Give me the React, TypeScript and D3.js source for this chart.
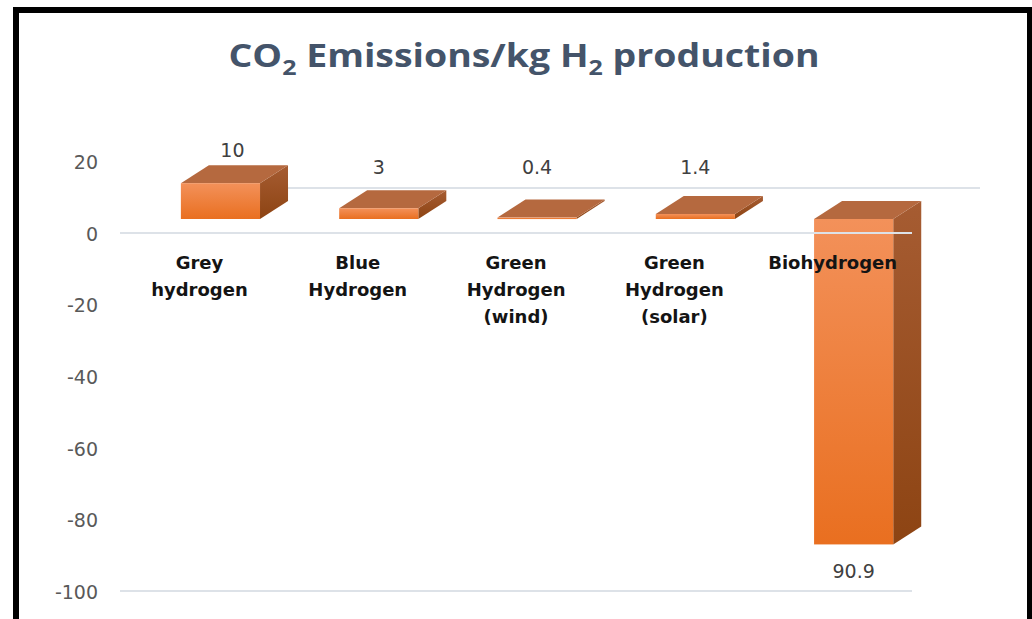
import React from 'react';
import * as d3 from 'd3';

// chart data
const categories = ['Grey hydrogen', 'Blue Hydrogen', 'Green Hydrogen (wind)', 'Green Hydrogen (solar)', 'Biohydrogen'];
const categoryLines = [['Grey', 'hydrogen'], ['Blue', 'Hydrogen'], ['Green', 'Hydrogen', '(wind)'], ['Green', 'Hydrogen', '(solar)'], ['Biohydrogen']];
const values = [10, 3, 0.4, 1.4, -90.9];
const valueLabels = ['10', '3', '0.4', '1.4', '90.9'];
const yTicks = [20, 0, -20, -40, -60, -80, -100];

const W = 1032;
const H = 619;

const App = () => {
  const xScale = d3.scaleBand<string>()
    .domain(categories)
    .range([141.3, 932.8])
    .paddingInner(0.5)
    .paddingOuter(0.25);

  const yScale = d3.scaleLinear()
    .domain([-100, 20])
    .range([592, 162.4]);

  // 3d depth of the bars and of the back wall
  const dx = 28, dy = -18;
  const wallDx = 68, wallDy = -46;
  const frontShift = -15;
  const yFront = (v: number) => yScale(v) + frontShift;

  const bw = xScale.bandwidth();
  const gridX0 = 120, gridX1 = 912;

  return (
    <svg width={W} height={H} style={{ position: 'absolute', left: 0, top: 0, background: '#fff' }}>
      <defs>
        <linearGradient id="frontGrad" x1="0" y1="0" x2="0" y2="1">
          <stop offset="0%" stopColor="#F3915A" />
          <stop offset="100%" stopColor="#E96F20" />
        </linearGradient>
        <linearGradient id="sideGrad" x1="0" y1="0" x2="0" y2="1">
          <stop offset="0%" stopColor="#A65C32" />
          <stop offset="100%" stopColor="#8D4413" />
        </linearGradient>
      </defs>

      {/* back wall zero line */}
      <line x1={gridX0 + wallDx} x2={gridX1 + wallDx} y1={yScale(0) + wallDy} y2={yScale(0) + wallDy}
        stroke="#DDE2E8" strokeWidth={2} />

      {/* bars */}
      {values.map((v, i) => {
        const x0 = xScale(categories[i])!;
        const x1 = x0 + bw;
        const yt = Math.min(yFront(0), yFront(v));
        const yb = Math.max(yFront(0), yFront(v));
        const top = `${x0},${yt} ${x0 + dx},${yt + dy} ${x1 + dx},${yt + dy} ${x1},${yt}`;
        const side = `${x1},${yt} ${x1 + dx},${yt + dy} ${x1 + dx},${yb + dy} ${x1},${yb}`;
        return (
          <g key={categories[i]}>
            <polygon points={side} fill="url(#sideGrad)" />
            <polygon points={top} fill="#B5693F" />
            <rect x={x0} y={yt} width={bw} height={Math.max(1.5, yb - yt)} fill="url(#frontGrad)" />
          </g>
        );
      })}

      {/* front gridlines */}
      {[0, -100].map(t => (
        <line key={t} x1={gridX0} x2={gridX1} y1={yScale(t) - 1} y2={yScale(t) - 1}
          stroke="#DDE2E8" strokeWidth={2} />
      ))}

      {/* y axis */}
      {yTicks.map(t => (
        <text key={t} x={98} y={yScale(t)} dy="0.36em" textAnchor="end"
          fontFamily="DejaVu Sans" fontSize={19} fill="#595959">{t}</text>
      ))}

      {/* value labels */}
      {values.map((v, i) => {
        const cx = xScale(categories[i])! + bw / 2;
        let x = cx, y;
        if (v >= 0) {
          const topBack = yFront(v) + dy;
          y = Math.min(topBack - 8, 174);
          if (topBack - 8 < 174) x = cx + dx / 2 - 2;
        } else {
          y = yFront(v) + 34;
        }
        return (
          <text key={i} x={x} y={y} textAnchor="middle" fontFamily="DejaVu Sans" fontSize={19} fill="#404040">
            {valueLabels[i]}
          </text>
        );
      })}

      {/* category labels */}
      {categoryLines.map((lines, i) => (
        <text key={i} textAnchor="middle" fontFamily="DejaVu Sans" fontWeight="bold" fontSize={18} fill="#141414">
          {lines.map((l, j) => (
            <tspan key={j} x={xScale(categories[i])! + bw / 2 - 21} y={269 + j * 27}>{l}</tspan>
          ))}
        </text>
      ))}

      {/* title */}
      <text x={524} y={67} textAnchor="middle" fontFamily="Open Sans" fontWeight="bold" fontSize={33}
        fill="#44546A" textLength={591} lengthAdjust="spacingAndGlyphs">
        CO<tspan fontSize={22} dy={8}>2</tspan><tspan dy={-8}> Emissions/kg H</tspan><tspan fontSize={22} dy={8}>2</tspan><tspan dy={-8}> production</tspan>
      </text>

      {/* outer border */}
      <rect x={16} y={10} width={1014} height={700} fill="none" stroke="#000" strokeWidth={6} />
    </svg>
  );
};

export default App;
